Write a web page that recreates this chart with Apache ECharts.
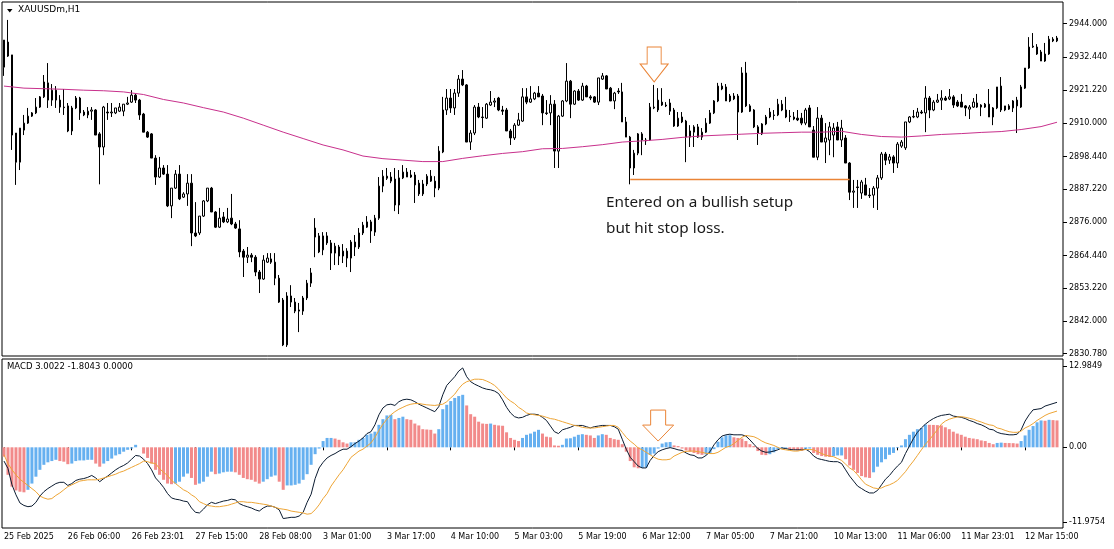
<!DOCTYPE html>
<html>
<head>
<meta charset="utf-8">
<title>XAUUSDm,H1</title>
<script src="https://cdn.jsdelivr.net/npm/echarts@6.0.0/dist/echarts.min.js"></script>
<style>
html, body { margin: 0; padding: 0; background: #fff; }
#chart { width: 1114px; height: 549px; }
</style>
</head>
<body>
<div id="chart"></div>
<script>
// H1 bars, one row each: open, high, low, close
var candles = [
  [2929.1,2938.4,2926.1,2938.4],[2937.7,2945.3,2932.6,2932.9],[2933.3,2933.3,2900.7,2905.8],[2906.5,2906.5,2888.7,2896.5],[2896.5,2908.2,2893.8,2908.2],
  [2907.5,2912.7,2905.8,2909.9],[2909.9,2915.1,2909.6,2912.3],[2912.3,2913.7,2912.0,2913.4],[2913.4,2918.5,2913.0,2915.4],[2915.4,2919.2,2915.1,2918.9],
  [2918.9,2926.4,2918.5,2924.0],[2923.7,2930.5,2915.1,2917.8],[2917.8,2923.3,2915.8,2921.2],[2921.2,2922.6,2915.1,2917.8],[2917.8,2919.5,2913.4,2915.4],
  [2915.4,2921.6,2912.7,2915.2],[2915.8,2916.8,2906.8,2907.2],[2907.2,2915.8,2905.8,2915.1],[2915.1,2919.2,2914.7,2918.5],[2918.5,2918.9,2911.0,2913.4],
  [2913.7,2914.4,2912.3,2912.7],[2912.7,2915.4,2911.6,2914.0],[2914.0,2915.4,2911.0,2914.4],[2914.4,2914.7,2905.8,2905.8],[2906.2,2906.8,2888.9,2901.7],
  [2901.7,2915.8,2898.9,2915.4],[2913.7,2916.8,2911.0,2913.4],[2913.4,2916.8,2912.0,2913.7],[2913.4,2915.1,2913.0,2915.1],[2914.0,2916.8,2913.7,2915.4],
  [2914.0,2916.4,2912.3,2916.4],[2916.4,2918.9,2916.1,2916.8],[2917.1,2921.2,2916.8,2919.5],[2919.5,2919.9,2916.8,2917.8],[2917.8,2918.2,2911.0,2912.7],
  [2913.0,2913.4,2906.8,2906.8],[2906.8,2907.2,2904.8,2905.1],[2906.2,2906.5,2897.9,2897.9],[2897.9,2898.9,2888.7,2891.4],[2891.4,2898.3,2891.1,2894.5],
  [2894.5,2895.5,2892.1,2892.4],[2892.4,2895.5,2881.1,2881.5],[2881.5,2887.6,2877.3,2887.6],[2887.6,2893.8,2887.3,2892.4],[2892.4,2895.5,2883.5,2883.9],
  [2884.5,2886.2,2884.2,2885.6],[2885.6,2892.4,2881.5,2889.3],[2889.3,2892.4,2867.7,2872.2],[2872.2,2882.8,2870.8,2871.2],[2872.2,2878.0,2871.5,2878.0],
  [2878.0,2883.5,2877.7,2883.2],[2883.2,2887.6,2882.8,2887.6],[2887.6,2888.0,2879.4,2879.4],[2879.4,2879.7,2873.9,2874.2],[2874.2,2880.8,2873.9,2877.3],
  [2877.7,2879.4,2875.6,2876.0],[2876.0,2880.8,2875.6,2877.0],[2877.3,2885.6,2874.9,2875.3],[2875.3,2876.0,2873.6,2873.9],[2873.6,2876.6,2863.9,2865.7],
  [2866.0,2866.7,2857.1,2863.9],[2863.9,2867.4,2861.9,2864.6],[2864.6,2865.3,2862.2,2863.9],[2863.9,2864.6,2857.4,2858.8],[2858.8,2859.5,2851.6,2856.4],
  [2856.4,2864.6,2856.1,2862.9],[2862.2,2865.3,2861.9,2863.6],[2863.3,2865.3,2861.6,2862.2],[2862.2,2865.3,2854.3,2856.7],[2856.7,2857.8,2848.2,2848.5],
  [2849.2,2849.9,2833.4,2833.8],[2833.8,2851.9,2833.1,2850.6],[2850.6,2854.3,2846.8,2848.5],[2848.5,2849.9,2844.7,2845.4],[2845.4,2848.2,2838.2,2845.8],
  [2845.4,2850.6,2844.1,2849.9],[2849.9,2856.1,2849.2,2855.0],[2855.0,2860.2,2853.7,2858.5],[2873.9,2877.3,2863.9,2870.8],[2871.2,2872.2,2865.3,2865.7],
  [2866.4,2872.5,2864.6,2871.2],[2871.2,2872.5,2868.1,2868.8],[2868.8,2869.8,2859.5,2865.3],[2865.3,2868.8,2861.2,2867.7],[2867.4,2868.1,2861.2,2864.3],
  [2864.3,2868.4,2861.9,2866.0],[2866.0,2867.0,2860.5,2863.6],[2863.6,2869.8,2858.8,2869.1],[2869.1,2871.5,2864.3,2867.4],[2867.4,2873.9,2866.7,2872.2],
  [2872.2,2876.0,2871.5,2874.9],[2874.2,2878.0,2873.9,2876.0],[2876.0,2876.7,2868.8,2872.9],[2872.5,2878.4,2871.2,2877.3],[2877.3,2891.4,2876.7,2888.3],
  [2888.3,2893.8,2886.2,2891.7],[2891.7,2894.5,2890.4,2891.0],[2891.4,2893.1,2889.3,2890.0],[2890.7,2894.5,2879.7,2881.8],[2881.8,2893.8,2878.7,2891.1],
  [2891.1,2895.5,2890.7,2893.1],[2893.1,2894.5,2891.4,2891.4],[2891.4,2893.8,2891.1,2892.1],[2892.1,2893.1,2882.5,2888.7],[2889.3,2890.4,2884.9,2885.6],
  [2885.6,2890.4,2884.9,2889.0],[2889.0,2892.4,2888.3,2891.7],[2891.7,2893.8,2889.7,2890.0],[2890.0,2891.7,2884.5,2887.6],[2887.6,2902.0,2886.9,2900.3],
  [2900.0,2918.9,2899.6,2914.4],[2914.4,2921.6,2912.7,2918.5],[2918.5,2921.6,2913.4,2915.1],[2915.1,2921.6,2912.7,2920.2],[2920.2,2926.4,2918.9,2925.0],
  [2925.0,2928.1,2922.6,2923.0],[2923.0,2923.3,2903.4,2903.4],[2903.4,2907.5,2900.7,2906.5],[2906.5,2916.1,2905.8,2915.4],[2915.4,2916.8,2911.6,2912.0],
  [2912.0,2915.4,2908.2,2911.8],[2911.6,2916.8,2911.3,2916.4],[2916.1,2920.9,2915.8,2917.1],[2917.1,2918.5,2915.4,2917.5],[2918.5,2918.9,2914.0,2914.4],
  [2914.4,2915.8,2912.7,2914.0],[2914.4,2915.1,2907.2,2907.2],[2907.2,2907.9,2902.4,2904.8],[2904.8,2909.9,2904.1,2909.2],[2909.2,2913.4,2908.9,2911.0],
  [2910.6,2921.9,2910.3,2918.9],[2918.9,2921.9,2916.4,2917.1],[2917.1,2922.6,2916.8,2918.2],[2918.2,2920.6,2917.8,2920.2],[2920.2,2922.6,2918.9,2918.9],
  [2919.2,2919.9,2909.2,2913.4],[2913.4,2917.8,2912.7,2913.2],[2913.4,2919.5,2909.2,2916.4],[2916.4,2917.8,2894.5,2900.3],[2900.3,2912.7,2894.5,2912.3],
  [2912.3,2917.8,2912.0,2917.5],[2917.5,2930.5,2917.1,2924.3],[2924.3,2924.7,2911.6,2916.4],[2916.4,2921.2,2916.1,2920.9],[2920.9,2921.6,2917.5,2917.8],
  [2917.8,2923.7,2917.5,2922.6],[2922.6,2923.0,2918.9,2918.9],[2918.9,2919.5,2917.8,2918.5],[2918.9,2919.2,2916.8,2917.1],[2917.1,2925.4,2916.1,2925.4],
  [2925.0,2927.1,2924.7,2926.1],[2926.1,2926.4,2921.6,2921.6],[2921.9,2922.3,2917.5,2917.5],[2917.5,2920.6,2914.7,2920.2],[2920.9,2921.9,2919.9,2920.6],
  [2920.6,2923.7,2910.3,2910.3],[2910.3,2912.0,2905.1,2905.1],[2905.1,2905.5,2888.9,2894.5],[2894.5,2900.7,2892.1,2899.6],[2899.6,2906.5,2898.9,2906.2],
  [2906.2,2906.8,2898.9,2904.1],[2904.1,2904.8,2902.4,2903.8],[2904.1,2916.8,2903.8,2915.4],[2915.1,2923.0,2914.7,2915.4],[2914.4,2921.9,2913.7,2917.8],
  [2917.1,2921.9,2915.8,2916.1],[2916.1,2917.1,2915.4,2915.8],[2916.8,2918.2,2912.7,2914.0],[2914.4,2915.1,2908.6,2908.9],[2908.9,2913.7,2908.6,2911.6],
  [2912.0,2913.7,2909.9,2910.3],[2910.6,2911.0,2896.5,2905.1],[2905.1,2909.2,2901.7,2907.2],[2906.8,2909.2,2901.7,2908.6],[2908.6,2909.6,2904.8,2905.1],
  [2905.1,2908.2,2904.1,2906.8],[2906.8,2911.6,2906.5,2909.9],[2909.9,2914.4,2909.6,2913.4],[2913.4,2917.8,2913.0,2917.5],[2917.5,2923.7,2917.1,2922.6],
  [2922.6,2923.7,2921.2,2921.6],[2922.3,2923.3,2917.5,2917.5],[2917.5,2919.9,2917.1,2919.2],[2919.2,2920.2,2917.8,2918.2],[2919.2,2919.9,2904.1,2913.7],
  [2913.7,2929.1,2913.4,2927.1],[2927.1,2930.9,2915.4,2915.8],[2915.8,2916.4,2913.7,2914.0],[2914.4,2914.7,2908.2,2908.6],[2908.6,2909.2,2902.4,2906.5],
  [2906.2,2909.9,2905.8,2909.6],[2909.6,2912.7,2909.2,2912.0],[2912.0,2915.1,2911.6,2913.7],[2912.7,2914.4,2911.0,2912.5],[2912.7,2918.2,2912.3,2916.4],
  [2916.4,2917.8,2914.0,2914.4],[2914.4,2918.9,2911.6,2912.0],[2912.3,2914.4,2910.3,2912.1],[2912.0,2913.7,2910.9,2911.3],[2911.6,2914.4,2910.6,2911.0],
  [2911.6,2913.4,2909.2,2909.9],[2909.9,2915.1,2909.2,2914.4],[2915.1,2916.1,2908.6,2908.6],[2907.5,2908.9,2898.2,2898.2],[2898.2,2915.4,2897.2,2911.6],
  [2911.6,2912.7,2903.4,2903.4],[2903.4,2909.9,2896.2,2904.8],[2904.1,2910.3,2898.9,2908.6],[2905.8,2909.9,2898.2,2908.2],[2908.6,2910.3,2904.1,2904.1],
  [2904.1,2911.0,2901.7,2908.2],[2904.8,2905.8,2896.2,2896.2],[2896.2,2896.5,2883.5,2886.2],[2886.2,2890.4,2880.8,2886.6],[2888.0,2890.4,2880.8,2887.8],
  [2885.9,2890.4,2883.9,2889.7],[2888.7,2891.1,2885.2,2885.2],[2885.2,2887.6,2884.2,2885.0],[2885.2,2888.3,2880.8,2887.6],[2887.6,2892.1,2880.1,2891.1],
  [2891.1,2900.0,2890.4,2899.3],[2899.3,2900.0,2895.5,2897.2],[2897.2,2899.3,2895.9,2898.3],[2898.3,2898.9,2892.8,2896.2],[2896.2,2903.4,2894.5,2902.7],
  [2902.0,2904.1,2901.4,2903.4],[2901.4,2910.3,2900.7,2910.3],[2910.3,2912.3,2909.9,2912.0],[2912.0,2914.4,2911.6,2912.2],[2912.0,2915.1,2911.6,2913.7],
  [2913.7,2914.4,2913.0,2913.4],[2913.4,2922.6,2906.8,2918.5],[2918.5,2919.2,2911.6,2914.4],[2914.4,2917.8,2914.0,2917.1],[2917.1,2919.9,2916.8,2917.8],
  [2917.8,2921.2,2914.4,2918.5],[2918.5,2919.2,2917.5,2917.8],[2918.2,2921.6,2917.8,2918.9],[2918.9,2919.5,2915.1,2916.1],[2917.1,2917.8,2915.4,2915.8],
  [2917.1,2919.9,2915.4,2915.4],[2915.8,2916.1,2912.3,2915.1],[2914.7,2916.1,2911.3,2915.4],[2915.4,2918.5,2915.1,2917.1],[2916.8,2919.9,2915.1,2915.4],
  [2916.1,2916.4,2912.3,2915.4],[2915.4,2916.8,2915.1,2916.4],[2916.4,2921.6,2912.0,2912.0],[2912.0,2915.4,2909.2,2915.1],[2915.1,2922.3,2914.7,2922.3],
  [2922.6,2925.7,2913.7,2914.4],[2914.4,2915.8,2914.0,2915.8],[2915.8,2916.4,2914.4,2914.7],[2915.1,2917.8,2913.7,2917.5],[2917.8,2918.9,2906.5,2915.8],
  [2915.4,2923.0,2915.1,2922.3],[2921.9,2928.8,2921.6,2928.8],[2928.8,2939.4,2928.5,2936.0],[2936.0,2940.8,2935.7,2936.3],[2936.0,2937.0,2933.3,2933.6],
  [2934.3,2935.0,2931.2,2931.2],[2931.2,2937.4,2930.9,2933.6],[2933.6,2939.8,2933.3,2938.7],[2938.7,2939.4,2937.7,2938.1],[2938.1,2939.8,2937.7,2939.1]
];

// slow moving average, read every 5 bars
var maBars = [0,5,10,15,20,25,30,35,40,45,50,55,60,65,70,75,80,85,90,95,100,105,110,115,120,125,130,135,140,145,150,155,160,165,170,175,180,185,190,195,200,205,210,215,220,225,230,235,240,245,250,255,260,264];
var maValues = [2922.6,2921.9,2921.7,2921.5,2921.2,2921.0,2920.6,2919.7,2918.0,2916.8,2915.2,2913.7,2911.6,2909.2,2906.8,2904.6,2902.4,2900.7,2898.6,2897.7,
  2897.2,2896.7,2896.7,2897.8,2898.7,2899.5,2900.1,2901.1,2901.2,2901.8,2902.5,2903.4,2903.8,2904.3,2905.0,2905.5,2905.8,2906.1,2906.4,2906.6,
  2906.8,2906.8,2907.1,2906.0,2905.3,2905.1,2905.5,2906.0,2906.3,2906.7,2907.0,2907.7,2908.7,2910.2];

// MACD pane: histogram, main line (dark), signal line (orange)
var hist = [
  -1.5,-4.4,-6.3,-6.9,-7.1,-7.2,-6.8,-5.8,-4.7,-3.6, -2.8,-2.4,-2.2,-2.0,-2.2,-2.3,-2.7,-2.6,-2.2,-2.1,
  -2.1,-2.0,-2.0,-2.6,-3.1,-2.6,-2.2,-1.8,-1.3,-1.1, -0.7,-0.4,-0.2,0.4,0.0,-1.0,-1.7,-2.6,-3.6,-4.4,
  -5.2,-5.8,-5.9,-5.8,-5.5,-4.7,-4.2,-4.9,-6.0,-5.8, -5.5,-4.7,-3.9,-4.3,-4.2,-4.0,-3.9,-3.9,-4.0,-4.4,
  -4.9,-5.1,-5.2,-5.5,-5.8,-5.5,-5.1,-4.7,-4.5,-5.5, -6.8,-6.1,-6.1,-6.0,-5.8,-5.2,-4.3,-2.8,-1.1,-0.2,
  1.0,1.5,1.5,1.4,1.2,0.8,0.6,0.8,0.8,1.2, 1.5,2.0,2.2,2.5,3.6,4.5,5.1,5.2,4.5,4.7,
  4.9,4.5,4.4,3.8,3.5,2.9,2.85,2.8,2.2,2.9, 6.1,6.8,7.4,7.9,8.2,8.4,6.7,5.3,4.9,4.1,
  3.8,3.75,3.8,3.6,3.5,3.45,2.4,1.5,1.2,1.0, 1.5,2.0,2.2,2.5,2.8,2.2,1.7,1.6,0.3,0.25,
  0.4,1.4,1.45,1.7,2.0,2.1,2.0,1.9,1.5,1.9, 2.1,2.0,1.5,1.3,1.2,0.5,-0.7,-2.2,-3.2,-3.35,
  -3.3,-3.2,-1.2,-1.0,-0.2,0.6,0.8,0.85,0.3,0.2, -0.2,-0.5,-0.7,-0.9,-1.1,-1.2,-1.15,-0.9,-0.3,0.9,
  1.6,1.9,1.95,1.6,1.5,1.4,1.0,0.5,0.2,-0.6, -1.2,-1.25,-1.1,-0.8,-0.3,-0.1,-0.1,-0.3,-0.4,-0.5,
  -0.55,-0.3,-0.2,-0.9,-1.2,-1.4,-1.5,-1.55,-1.4,-1.3, -1.3,-1.9,-2.9,-3.6,-4.1,-4.6,-4.8,-4.9,-4.0,-3.1,
  -2.4,-1.9,-1.2,-0.9,-0.1,0.3,1.3,2.0,2.5,2.9, 3.1,3.65,3.6,3.58,3.55,3.5,3.2,2.9,2.5,2.2,
  2.0,1.7,1.5,1.4,1.3,1.1,1.0,0.7,0.5,0.7, 0.75,0.7,0.68,0.66,0.6,1.0,1.9,2.8,3.4,4.0,
  4.3,4.25,4.4,4.35,4.3
];
var macdMain = [
  -2.2,-3.4,-6.0,-7.6,-8.9,-9.3,-9.5,-9.4,-8.8,-7.8, -7.1,-6.6,-6.2,-5.8,-5.6,-5.6,-6.1,-5.8,-5.3,-5.1,
  -5.0,-4.8,-4.5,-4.9,-5.5,-5.0,-4.6,-4.1,-3.6,-3.2, -2.9,-2.5,-1.9,-1.3,-1.4,-1.9,-2.6,-3.6,-4.9,-5.6,
  -6.4,-7.4,-8.1,-8.3,-8.4,-8.6,-8.7,-9.7,-10.4,-10.5, -9.9,-9.2,-8.8,-9.0,-8.8,-8.6,-8.5,-8.3,-8.4,-9.0,
  -9.3,-9.5,-9.7,-10.0,-10.2,-9.7,-9.4,-9.4,-9.6,-10.0, -11.4,-11.3,-11.2,-11.2,-11.0,-10.4,-8.8,-7.5,-5.0,-3.3,
  -2.4,-1.7,-1.3,-1.0,-0.6,-0.3,-0.3,0.1,0.6,1.0, 1.5,2.2,2.5,3.6,5.2,6.3,6.8,6.9,6.7,7.3,
  7.6,7.7,7.6,7.3,6.9,6.6,6.3,6.0,5.7,6.5, 8.4,9.9,10.6,11.3,12.2,12.7,11.3,10.5,10.1,9.8,
  9.5,9.3,9.2,9.0,8.6,7.6,6.4,5.5,4.9,4.7, 4.8,5.1,5.3,5.3,5.2,4.8,4.3,3.4,2.5,2.2,
  2.8,3.0,3.2,3.5,3.5,3.5,3.3,3.1,3.3,3.4, 3.5,3.5,3.5,3.3,2.9,1.3,-0.3,-1.6,-2.3,-3.0,
  -3.3,-3.3,-2.1,-1.3,-0.7,-0.4,-0.2,-0.05,-0.2,-0.4, -0.5,-0.9,-1.2,-1.3,-1.7,-1.7,-1.3,-0.7,0.4,1.2,
  1.8,2.0,2.1,2.0,2.0,2.0,1.8,1.2,0.5,-0.2, -0.6,-0.8,-0.75,-0.6,-0.4,-0.1,-0.2,-0.35,-0.4,-0.4,
  -0.4,-0.3,-0.7,-1.4,-1.8,-1.95,-2.1,-2.25,-2.3,-2.3, -2.6,-3.6,-4.6,-5.4,-6.2,-6.6,-7.0,-7.3,-7.3,-6.9,
  -6.0,-5.1,-4.5,-3.7,-3.0,-2.4,-1.0,0.2,1.4,2.4, 3.1,3.7,4.2,4.6,4.9,5.1,5.2,5.3,5.0,4.9,
  4.8,4.6,4.3,4.1,3.8,3.6,3.3,2.9,2.8,2.4, 2.2,2.1,2.0,2.0,2.1,2.8,4.2,5.2,6.0,6.1,
  6.2,6.6,6.8,7.0,7.2
];
var macdSignal = [
  -1.2,-2.6,-3.6,-4.4,-5.1,-5.6,-6.1,-6.6,-7.1,-7.8, -8.1,-8.3,-8.2,-7.7,-7.3,-6.8,-6.3,-6.0,-5.7,-5.4,
  -5.3,-5.2,-5.2,-5.2,-5.1,-4.9,-4.7,-4.5,-4.3,-4.0, -3.8,-3.5,-3.2,-2.9,-2.6,-2.2,-2.3,-2.5,-2.6,-3.4,
  -4.0,-4.5,-5.3,-5.8,-6.3,-6.8,-7.1,-7.6,-8.0,-8.7, -9.0,-9.3,-9.4,-9.5,-9.5,-9.4,-9.3,-9.1,-8.9,-8.7,
  -8.7,-8.8,-8.8,-8.9,-9.0,-9.1,-9.2,-9.4,-9.6,-9.8, -9.9,-10.0,-10.2,-10.3,-10.4,-10.5,-10.7,-10.6,-10.0,-9.2,
  -8.2,-7.4,-6.2,-5.3,-4.4,-3.6,-2.6,-1.6,-1.1,-0.6, -0.3,0.2,0.7,1.6,2.7,3.7,4.5,5.2,5.7,6.1,
  6.4,6.7,6.9,7.0,7.0,6.9,6.8,6.75,6.7,6.8, 6.9,7.3,7.9,8.5,9.4,10.1,10.5,10.7,10.9,10.9,
  10.85,10.6,10.3,9.9,9.3,8.6,7.9,7.4,7.0,6.4, 6.0,5.5,5.3,5.2,5.1,5.0,4.8,4.6,4.5,4.3,
  4.1,3.9,3.7,3.5,3.4,3.2,3.1,3.1,3.1,3.2, 3.3,3.4,3.5,3.5,3.2,2.4,1.6,1.0,0.5,-0.1,
  -0.4,-0.8,-1.2,-1.6,-1.9,-2.0,-2.0,-1.9,-1.4,-1.1, -0.8,-0.65,-0.6,-0.6,-0.7,-0.8,-0.95,-1.0,-1.0,-0.8,
  -0.4,0.0,0.2,0.6,1.1,1.6,1.9,1.8,1.7,1.4, 1.0,0.7,0.5,0.3,0.0,-0.3,-0.4,-0.5,-0.6,-0.6,
  -0.45,-0.35,-0.35,-0.4,-0.7,-1.0,-1.25,-1.4,-1.5,-1.8, -2.1,-2.7,-3.3,-3.7,-4.4,-5.2,-5.9,-6.2,-6.5,-6.6,
  -6.5,-6.2,-6.0,-5.7,-5.3,-4.6,-3.9,-3.0,-2.2,-1.3, -0.4,0.5,1.2,2.0,2.8,3.7,4.2,4.5,4.7,4.85,
  4.9,4.8,4.65,4.5,4.25,4.05,3.8,3.6,3.5,3.1, 2.95,2.7,2.5,2.4,2.4,2.6,3.1,3.4,3.8,4.3,
  4.7,5.1,5.4,5.6,5.8
];

// time scale labels and the bars they sit on
var tickBars = [0,16,32,48,64,80,96,112,128,144,160,176,192,208,224,240,256];
var tickLabels = ['25 Feb 2025','26 Feb 06:00','26 Feb 23:01','27 Feb 15:00','28 Feb 08:00','3 Mar 01:00',
  '3 Mar 17:00','4 Mar 10:00','5 Mar 03:00','5 Mar 19:00','6 Mar 12:00','7 Mar 05:00','7 Mar 21:00',
  '10 Mar 13:00','11 Mar 06:00','11 Mar 23:01','12 Mar 15:00'];
var priceTicks = [2944.0,2932.44,2921.22,2910.0,2898.44,2887.22,2876.0,2864.44,2853.22,2842.0,2830.78];
var macdTicks = [12.9849, 0, -11.9754];

// the trade: stop level drawn from the swing low to the breakdown bar, entry bar
var stopLevel = 2890.55;
var stopFrom = 157, stopTo = 212;
var entryBar = 163;

var FONT = 'DejaVu Sans';
var ORANGE = '#ea8436';

var cats = [];
for (var i = 0; i <= candles.length; i++) cats.push(String(i)); // one spare slot on the right

var labelAt = {};
tickBars.forEach(function (b, k) { labelAt[b] = tickLabels[k]; });
function isTick(index) { return labelAt[index] !== undefined; }

var kData = candles.map(function (c) { return [c[0], c[3], c[2], c[1]]; });
var maData = maBars.map(function (b, k) { return [b, maValues[k]]; });
var histData = hist.map(function (v, k) {
  var prev = k > 0 ? hist[k - 1] : 0;
  return { value: v, itemStyle: { color: v >= prev ? '#66b0f0' : '#f28a8a' } };
});

var arrowPath = 'path://M7,0 L21,0 L21,17 L28,17 L14,35 L0,17 L7,17 Z';

var chart = echarts.init(document.getElementById('chart'));
var option = {
  animation: false,
  backgroundColor: '#fff',
  textStyle: { fontFamily: FONT },
  grid: [
    { left: 2, right: 51, top: 2, height: 354, show: true, borderColor: '#000', borderWidth: 1, backgroundColor: '#fff' },
    { left: 2, right: 51, top: 359, height: 169, show: true, borderColor: '#000', borderWidth: 1, backgroundColor: '#fff' }
  ],
  xAxis: [
    { type: 'category', gridIndex: 0, data: cats, boundaryGap: true, show: false },
    {
      type: 'category', gridIndex: 1, data: cats, boundaryGap: true,
      axisLine: { show: false },
      axisTick: { show: true, alignWithLabel: true, interval: isTick, length: 3, lineStyle: { color: '#000' } },
      axisLabel: {
        interval: isTick, align: 'left', margin: 5, fontSize: 8, color: '#000', fontFamily: FONT,
        formatter: function (v, idx) { return labelAt[idx] || ''; }
      },
      splitLine: { show: false }
    }
  ],
  yAxis: [
    {
      type: 'value', gridIndex: 0, position: 'right', min: 2830.0, max: 2951.45, scale: true,
      axisLine: { show: false }, splitLine: { show: false },
      axisTick: { show: true, customValues: priceTicks, length: 4, lineStyle: { color: '#000' } },
      axisLabel: { customValues: priceTicks, margin: 6, fontSize: 8, color: '#000', fontFamily: FONT,
        formatter: function (v) { return v.toFixed(3); } }
    },
    {
      type: 'value', gridIndex: 1, position: 'right', min: -12.91, max: 14.13,
      axisLine: { show: false }, splitLine: { show: false },
      axisTick: { show: true, customValues: macdTicks, length: 4, lineStyle: { color: '#000' } },
      axisLabel: { customValues: macdTicks, margin: 6, fontSize: 8, color: '#000', fontFamily: FONT,
        formatter: function (v) { return v === 0 ? '0.00' : String(v); } }
    }
  ],
  series: [
    {
      name: 'XAUUSDm', type: 'candlestick', xAxisIndex: 0, yAxisIndex: 0, data: kData,
      barWidth: 2,
      itemStyle: { color: '#fff', color0: '#000', borderColor: '#000', borderColor0: '#000', borderWidth: 1 },
      markPoint: {
        silent: true, symbol: arrowPath, symbolSize: [28, 35], symbolOffset: [0, '-50%'],
        itemStyle: { color: '#fff', borderColor: ORANGE, borderWidth: 1 },
        label: { show: false },
        data: [{ coord: [entryBar, 2924.0] }]
      }
    },
    {
      name: 'MA', type: 'line', xAxisIndex: 0, yAxisIndex: 0, data: maData,
      symbol: 'none', smooth: false, lineStyle: { color: '#c8308c', width: 1 }, z: 3
    },
    {
      name: 'Stop', type: 'line', xAxisIndex: 0, yAxisIndex: 0,
      data: [[stopFrom, stopLevel], [stopTo, stopLevel]],
      symbol: 'none', silent: true, color: ORANGE,
      lineStyle: { color: ORANGE, width: 1.3, opacity: 1 }, z: 5
    },
    {
      name: 'MACD hist', type: 'bar', xAxisIndex: 1, yAxisIndex: 1, data: histData,
      barWidth: 3,
      markPoint: {
        silent: true, symbol: 'path://M8,0 L23,0 L23,15 L31,15 L15.5,31 L0,15 L8,15 Z',
        symbolSize: [31, 31], symbolOffset: [0, '-50%'],
        itemStyle: { color: '#fff', borderColor: ORANGE, borderWidth: 1 },
        label: { show: false },
        data: [{ coord: [entryBar + 1, 1.0] }]
      }
    },
    {
      name: 'MACD', type: 'line', xAxisIndex: 1, yAxisIndex: 1, data: macdMain,
      symbol: 'none', lineStyle: { color: '#0b1b30', width: 1 }, z: 4
    },
    {
      name: 'Signal', type: 'line', xAxisIndex: 1, yAxisIndex: 1, data: macdSignal,
      symbol: 'none', lineStyle: { color: '#eea535', width: 1 }, z: 4
    }
  ],
  graphic: [
    { type: 'polygon', shape: { points: [[7, 9], [12.5, 9], [9.75, 12.5]] }, style: { fill: '#000' } },
    { type: 'text', left: 18, top: 5, style: { text: 'XAUUSDm,H1', fontSize: 9, fontFamily: FONT, fill: '#000' } },
    { type: 'text', left: 7, top: 362, style: { text: 'MACD 3.0022 -1.8043 0.0000', fontSize: 8.5, fontFamily: FONT, fill: '#000' } },
    { type: 'text', left: 606, top: 190, style: { text: 'Entered on a bullish setup\nbut hit stop loss.', fontSize: 15.3, lineHeight: 26, fontFamily: 'Noto Sans', fill: '#1a1a1a' } }
  ]
};
chart.setOption(option);
</script>
</body>
</html>
